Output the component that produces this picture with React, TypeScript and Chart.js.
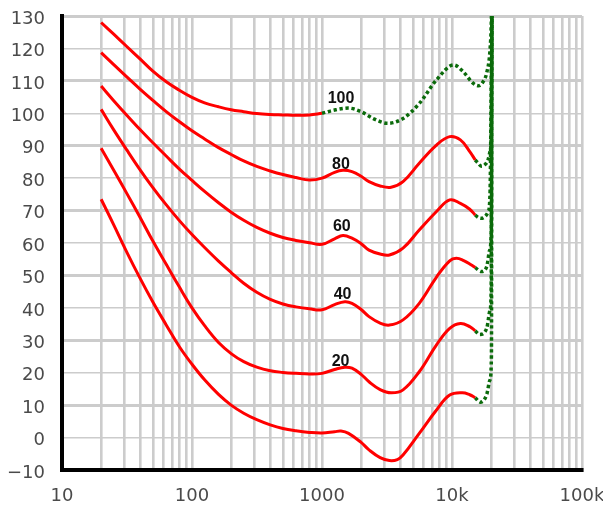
import React, { useEffect, useRef } from 'react';
import { Chart, registerables } from 'chart.js';
Chart.register(...registerables);

// ---- axis ticks ----
const xTickValues = [10, 100, 1000, 10000, 100000];
const xTickLabels = ['10', '100', '1000', '10k', '100k'];
const yTickValues = [-10, 0, 10, 20, 30, 40, 50, 60, 70, 80, 90, 100, 110, 120, 130];
const yTickLabels = ['\u221210', '0', '10', '20', '30', '40', '50', '60', '70', '80', '90', '100', '110', '120', '130'];

// ---- 100 phon ----
const p100Freq = [20, 25, 31.5, 40, 50, 63, 80, 100, 125, 160, 200, 250, 315, 400, 500, 630, 800, 1000];
const p100Db = [128, 124.4, 120.6, 116.7, 113, 109.8, 107.1, 104.9, 103.2, 102, 101.1, 100.5, 99.9, 99.6, 99.5, 99.4, 99.5, 100];
const p100ExtFreq = [1000, 1250, 1600, 2000, 2500, 3200, 4200, 5600, 7600, 10300, 12200, 14600, 16000, 17200, 18500, 19600, 20100, 20300];
const p100ExtDb = [100, 101, 101.6, 100.5, 98.3, 96.9, 98.4, 103, 110.3, 114.9, 112.8, 109.2, 108.5, 109.5, 112.5, 119.5, 129, 140];

// ---- 80 phon ----
const p80Freq = [20, 25, 31.5, 40, 50, 63, 80, 100, 125, 160, 200, 250, 315, 400, 500, 630, 800, 1000, 1250, 1450, 1700, 2000, 2300, 2800, 3400, 4200, 5600, 7600, 9600, 11600, 13700, 15100];
const p80Db = [118.7, 115, 111.2, 107.4, 104, 100.6, 97.4, 94.6, 92.1, 89.4, 87.3, 85.3, 83.6, 82.2, 81.1, 80.2, 79.4, 80, 81.8, 82.4, 82, 80.6, 78.9, 77.6, 77.2, 78.9, 84.6, 90.2, 92.8, 91.8, 88.2, 85.6];
const p80ExtFreq = [15100, 15900, 16800, 17700, 18900, 19700, 20000, 20300];
const p80ExtDb = [85.6, 84.6, 83.7, 84, 85.6, 88.7, 92.8, 140];

// ---- 60 phon ----
const p60Freq = [20, 25, 31.5, 40, 50, 63, 80, 100, 125, 160, 200, 250, 315, 400, 500, 630, 800, 1000, 1250, 1450, 1700, 2000, 2300, 2800, 3300, 4200, 5600, 7600, 9600, 11600, 13700, 15100];
const p60Db = [108.4, 103.9, 99.4, 94.9, 90.9, 86.9, 82.8, 79.3, 75.9, 72.4, 69.5, 67, 64.8, 63, 61.7, 60.8, 60.1, 59.6, 61.3, 62.3, 61.5, 59.8, 57.8, 56.6, 56.3, 58.4, 64, 69.7, 73.3, 72.2, 70.4, 68.6];
const p60ExtFreq = [15100, 16000, 16800, 18000, 19000, 19600, 20300];
const p60ExtDb = [68.6, 67.8, 67.6, 68.2, 69.7, 75, 140];

// ---- 40 phon ----
const p40Freq = [20, 25, 31.5, 40, 50, 63, 80, 100, 125, 160, 200, 250, 315, 400, 500, 630, 800, 1000, 1250, 1500, 1700, 2000, 2300, 2800, 3300, 4200, 5600, 7600, 9600, 10800, 12300, 14000, 15100];
const p40Db = [101.2, 94.9, 88.7, 82.5, 77.1, 71.9, 66.9, 62.6, 58.6, 54.4, 50.9, 47.6, 44.8, 42.6, 41.2, 40.3, 39.7, 39.4, 41, 41.9, 41.4, 39.5, 37.3, 35.3, 34.7, 36.3, 41.4, 49.5, 54.5, 55.3, 54.6, 53.3, 52.4];
const p40ExtFreq = [15100, 16800, 18500, 19500, 20000, 20300];
const p40ExtDb = [52.4, 51.2, 52.7, 57.8, 63, 140];

// ---- 20 phon ----
const p20Freq = [20, 25, 31.5, 40, 50, 63, 80, 100, 125, 160, 200, 250, 315, 400, 500, 630, 800, 1000, 1250, 1500, 1700, 2000, 2300, 2800, 3400, 4200, 5600, 7600, 9600, 11600, 13700, 15100];
const p20Db = [89.2, 82.4, 75.3, 67.8, 60.6, 53.6, 46.4, 40, 34.5, 29.3, 25.9, 23.4, 21.7, 20.6, 20.1, 19.8, 19.6, 19.8, 21, 21.7, 21.4, 19.5, 17.2, 14.8, 13.8, 14.7, 20.3, 28.6, 33.7, 35.2, 34.2, 32.9];
const p20ExtFreq = [15100, 16300, 18500, 19600, 20000, 20300];
const p20ExtDb = [32.9, 31.8, 33.7, 39.3, 45, 140];

// ---- threshold (bottom) ----
const p0Freq = [20, 25, 31.5, 40, 50, 63, 80, 100, 125, 160, 200, 250, 315, 400, 500, 630, 800, 1000, 1250, 1400, 1600, 2000, 2300, 2800, 3300, 3800, 4200, 5600, 7600, 9600, 12000, 13700, 15100];
const p0Db = [73.5, 65.6, 57.2, 49, 41.8, 34.9, 28, 22.6, 17.8, 13.3, 10, 7.5, 5.5, 3.9, 2.8, 2.1, 1.6, 1.4, 1.8, 2, 1.3, -1.5, -3.8, -6.2, -7.1, -6.8, -5.4, 1.3, 8.5, 13.1, 13.8, 13.2, 12.3];
const p0ExtFreq = [15100, 16500, 18500, 19600, 20100, 20300];
const p0ExtDb = [12.3, 10.9, 13.3, 17.8, 25, 140];

// ---- curve labels ----
const curveLabels = ['100', '80', '60', '40', '20'];
const curveLabelFreq = [1400, 1400, 1420, 1440, 1390];
const curveLabelDb = [104.4, 84.1, 65, 44, 23.4];

const RED = '#ff0000';
const GREEN = '#0b6b0b';
const GRID = '#cccccc';

const pts = (f: number[], d: number[]) => f.map((x, i) => ({ x, y: d[i] }));

const gridFreqs: number[] = [];
for (let e = 1; e <= 5; e++) {
  for (let m = 1; m <= 9; m++) {
    const v = Number((m * Math.pow(10, e)).toPrecision(6));
    if (v <= 100000) gridFreqs.push(v);
  }
}

const labelPlugin = {
  id: 'curveLabels',
  afterDatasetsDraw(chart: any) {
    const { ctx, scales } = chart;
    ctx.save();
    ctx.font = 'bold 16px "Liberation Sans", Arial, sans-serif';
    ctx.fillStyle = '#111111';
    ctx.textAlign = 'center';
    ctx.textBaseline = 'middle';
    curveLabels.forEach((t, i) => {
      ctx.fillText(t, scales.x.getPixelForValue(curveLabelFreq[i]), scales.y.getPixelForValue(curveLabelDb[i]));
    });
    ctx.restore();
  },
};

export default function App() {
  const ref = useRef<HTMLCanvasElement | null>(null);
  useEffect(() => {
    if (!ref.current) return;
    const red = (f: number[], d: number[]) => ({
      data: pts(f, d),
      borderColor: RED,
      backgroundColor: RED,
      borderWidth: 3,
      pointRadius: 0,
      fill: false,
      tension: 0.4,
    });
    const green = (f: number[], d: number[]) => ({
      data: pts(f, d),
      borderColor: GREEN,
      backgroundColor: GREEN,
      borderWidth: 3.5,
      borderDash: [3.3, 2.7],
      borderCapStyle: 'butt' as const,
      pointRadius: 0,
      fill: false,
      cubicInterpolationMode: 'monotone' as const,
    });
    const chart = new Chart(ref.current, {
      type: 'line',
      data: {
        datasets: [
          green(p100ExtFreq, p100ExtDb),
          green(p80ExtFreq, p80ExtDb),
          green(p60ExtFreq, p60ExtDb),
          green(p40ExtFreq, p40ExtDb),
          green(p20ExtFreq, p20ExtDb),
          green(p0ExtFreq, p0ExtDb),
          red(p100Freq, p100Db),
          red(p80Freq, p80Db),
          red(p60Freq, p60Db),
          red(p40Freq, p40Db),
          red(p20Freq, p20Db),
          red(p0Freq, p0Db),
        ] as any,
      },
      options: {
        animation: false,
        responsive: false,
        events: [],
        layout: { padding: { left: 0, top: 16, right: 21, bottom: 0 } },
        plugins: { legend: { display: false }, tooltip: { enabled: false } },
        scales: {
          x: {
            type: 'logarithmic',
            min: 10,
            max: 100000,
            afterBuildTicks: (s: any) => {
              s.ticks = gridFreqs.map((v) => ({ value: v, major: false }));
            },
            afterFit: (s: any) => {
              s.height = 38;
              s.paddingRight = 0;
              s.paddingLeft = 0;
            },
            ticks: {
              autoSkip: false,
              maxRotation: 0,
              padding: 0,
              color: '#4a4a4a',
              font: { family: '"DejaVu Sans"', size: 18 },
              callback: (v: any) => {
                const i = xTickValues.indexOf(Number(v));
                return i >= 0 ? xTickLabels[i] : '';
              },
            },
            grid: { color: GRID, lineWidth: 2.6, drawTicks: true, tickLength: 16, tickColor: 'rgba(0,0,0,0)' },
            border: { display: true, color: '#000000', width: 4 },
          },
          y: {
            type: 'linear',
            min: -10,
            max: 130,
            afterBuildTicks: (s: any) => {
              s.ticks = yTickValues.map((v) => ({ value: v }));
            },
            afterFit: (s: any) => {
              s.width = 62;
              s.paddingTop = 0;
              s.paddingBottom = 0;
            },
            ticks: {
              padding: 0,
              labelOffset: 3,
              color: '#4a4a4a',
              font: { family: '"DejaVu Sans"', size: 18 },
              callback: (v: any) => {
                const i = yTickValues.indexOf(Number(v));
                return i >= 0 ? yTickLabels[i] : '';
              },
            },
            grid: {
              color: GRID,
              drawTicks: true,
              tickLength: 17,
              tickColor: 'rgba(0,0,0,0)',
              lineWidth: (c: any) => {
                const v = c.tick ? c.tick.value : 0;
                return (v + 10) % 20 === 0 ? 3 : 1.5;
              },
            },
            border: { display: true, color: '#000000', width: 4 },
          },
        },
      } as any,
      plugins: [labelPlugin],
    });
    return () => chart.destroy();
  }, []);
  return (
    <div style={{ position: 'absolute', left: 0, top: 0, width: 603, height: 508, background: '#fff' }}>
      <canvas ref={ref} width={603} height={508} style={{ display: 'block' }} />
    </div>
  );
}
